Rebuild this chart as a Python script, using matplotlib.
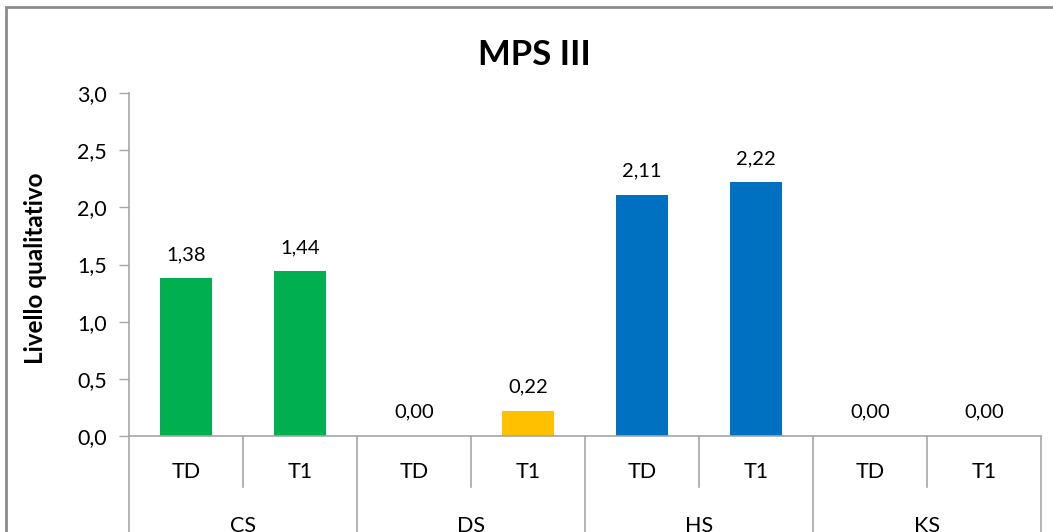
import matplotlib
matplotlib.use("Agg")
import matplotlib.pyplot as plt
from matplotlib.patches import Rectangle
from matplotlib.transforms import blended_transform_factory

plt.rcParams["font.family"] = ["Lato", "DejaVu Sans"]

groups = ["CS", "DS", "HS", "KS"]
times = ["TD", "T1"]
values = [1.38, 1.44, 0.00, 0.22, 2.11, 2.22, 0.00, 0.00]
group_colors = ["#00B050", "#FFC000", "#0070C0", "#0070C0"]
yticks = [0.0, 0.5, 1.0, 1.5, 2.0, 2.5, 3.0]

fig = plt.figure(figsize=(10.53, 5.32), dpi=100)
ax = fig.add_axes([129 / 1053, 96 / 532, 912 / 1053, 343 / 532])

xs = list(range(len(values)))
colors = [group_colors[i // 2] for i in xs]
ax.bar(xs, values, width=0.46, color=colors, zorder=2)
for x, v in zip(xs, values):
    ax.annotate(f"{v:.2f}".replace(".", ","), (x, v), xytext=(0, 11),
                textcoords="offset points", ha="center", va="bottom", fontsize=14.5)

ax.set_xlim(-0.5, len(values) - 0.5)
ax.set_ylim(0, 3.0)
ax.set_yticks(yticks)
ax.set_yticklabels([f"{t:.1f}".replace(".", ",") for t in yticks], fontsize=15.5)
ax.tick_params(axis="y", length=7, width=1, color="#A6A6A6", pad=9)
ax.set_xticks([])
for side in ["top", "right"]:
    ax.spines[side].set_visible(False)
for side in ["left", "bottom"]:
    ax.spines[side].set_color("#A6A6A6")
    ax.spines[side].set_linewidth(1.2)
ax.set_ylabel("Livello qualitativo", fontsize=17.5, fontweight="bold")
ax.yaxis.set_label_coords(-0.09, 0.49)

# two-level category axis
tr = blended_transform_factory(ax.transData, ax.transAxes)
for i in range(len(groups) + 1):
    ax.plot([2 * i - 0.5] * 2, [0, -0.3], transform=tr, color="#A6A6A6",
            lw=1.2, clip_on=False)
for i in range(len(groups)):
    ax.plot([2 * i + 0.5] * 2, [0, -0.149], transform=tr, color="#A6A6A6",
            lw=1.2, clip_on=False)
    ax.text(2 * i + 0.5, -0.262, groups[i], transform=tr, ha="center",
            va="center", fontsize=15.5)
for x in xs:
    ax.text(x, -0.105, times[x % 2], transform=tr, ha="center", va="center",
            fontsize=15.5)

fig.text(534 / 1053, 1 - 55 / 532, "MPS III", ha="center", va="center",
         fontsize=25, fontweight="bold")

fig.patches.append(Rectangle((5.5 / 1053, -0.1), 1.2, 1 - 6.5 / 532 + 0.1,
                             transform=fig.transFigure, fill=False,
                             edgecolor="#8C8C8C", lw=2, zorder=0))

fig.savefig("out.png", dpi=100)
